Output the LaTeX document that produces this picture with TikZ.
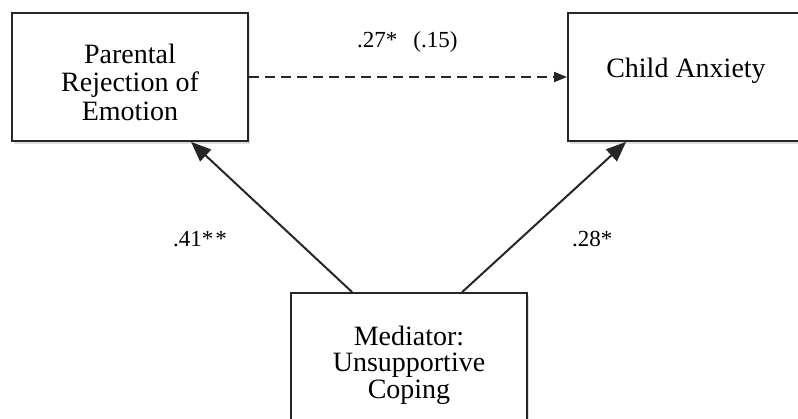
\documentclass[tikz,border=0pt]{standalone}
\usepackage{fontspec}
\setmainfont{Liberation Serif}
\usetikzlibrary{arrows.meta,calc,shadows}
\begin{document}
\begin{tikzpicture}[x=1pt,y=-1pt,
  box/.style={draw=black!85,line width=1.8pt,fill=white,rectangle,inner sep=0pt,
    drop shadow={opacity=0.25,shadow xshift=1.5pt,shadow yshift=-2.5pt}},
  boxtext/.style={align=center,font=\fontsize{28}{28}\selectfont,inner sep=0pt},
  lbl/.style={font=\fontsize{23}{23}\selectfont,inner sep=0pt,anchor=base west},
  solidarrow/.style={line width=2pt,draw=black!85,-{Triangle[length=20pt,width=16pt]}},
  dasharrow/.style={line width=1.8pt,draw=black!85,dash pattern=on 10pt off 6pt,-{Triangle[length=13pt,width=10pt]}}
]
\useasboundingbox (0,0) rectangle (798,418);
\clip (0,0) rectangle (798,418);
\node[box,minimum width=236pt,minimum height=128pt] (L) at (130,77) {};
\node[box,minimum width=244pt,minimum height=128pt] (R) at (690,77) {};
\node[box,minimum width=236pt,minimum height=128pt] (M) at (409,357) {};
\node[boxtext,font=\fontsize{28}{28.5}\selectfont,anchor=base] (Lt) at (130,120) {Parental\\Rejection of\\Emotion};
\node[boxtext,anchor=base] (Rt) at (686,77) {Child Anxiety};
\node[boxtext,font=\fontsize{28}{26.5}\selectfont,anchor=base] (Mt) at (409,398) {Mediator:\\Unsupportive\\Coping};
\draw[dasharrow] (L.east) -- (R.west);
\draw[solidarrow] ($(M.north west)+(62,0)$) -- ($(L.south west)+(180,0)$);
\draw[solidarrow] ($(M.north west)+(172,0)$) -- ($(R.south west)+(59,0)$);
\node[lbl] (l1) at (357,47) {.27*\hspace{16pt}(.15)};
\node[lbl] (l2) at (173,246) {.41*\hspace{2pt}*};
\node[lbl] (l3) at (572,246) {.28*};
\end{tikzpicture}
\end{document}
